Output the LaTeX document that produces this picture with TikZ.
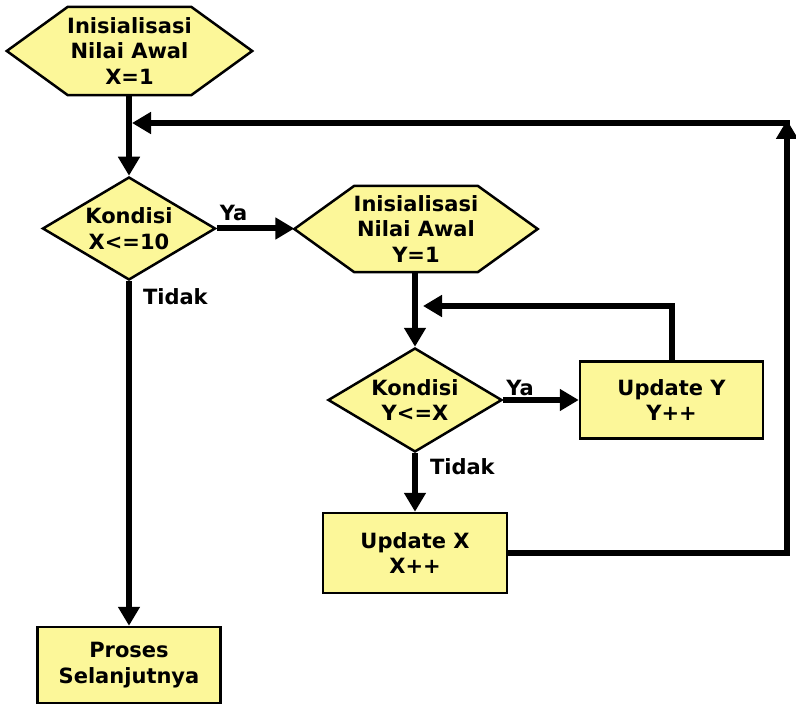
\documentclass[tikz,border=0pt]{standalone}
\usepackage{fontspec}
\setmainfont{DejaVu Sans}
\usetikzlibrary{arrows.meta,shapes.geometric,backgrounds,calc}
\definecolor{boxfill}{RGB}{252,247,153}
\begin{document}
\begin{tikzpicture}[x=1pt,y=-1pt,
  txt/.style={font=\fontsize{21}{25.5}\selectfont\bfseries, align=center},
  box/.style={txt, draw=black, line width=2.5pt, fill=boxfill, inner sep=0pt},
  hexnode/.style={txt, inner sep=0pt},
  dia/.style={shape=diamond, draw=black, line width=2.5pt, fill=boxfill, inner sep=0pt},
  flow/.style={line width=6pt, -{Triangle[width=21pt,length=19pt]}},
  lbl/.style={font=\fontsize{21}{24}\selectfont\bfseries, inner sep=0pt},
  hexline/.style={draw=black, line width=2.5pt, fill=boxfill, line join=miter}
]
\useasboundingbox (0,0) rectangle (796,706);

% nodes
\node[hexnode, minimum width=245pt, minimum height=88pt] (H1) at (129.5,51) {Inisialisasi\\Nilai Awal\\X=1};
\node[dia, minimum width=173pt, minimum height=103pt,
      label={[txt]center:{Kondisi\\X<=10}}] (D1) at (129,228.5) {};
\node[hexnode, minimum width=243pt, minimum height=86pt] (H2) at (416,229) {Inisialisasi\\Nilai Awal\\Y=1};
\node[dia, minimum width=174pt, minimum height=104pt,
      label={[txt]center:{Kondisi\\Y<=X}}] (D2) at (415,400) {};
\node[box, minimum width=183pt, minimum height=77pt] (UY) at (671.5,400) {Update Y\\Y++};
\node[box, minimum width=184pt, minimum height=80pt] (UX) at (415,553) {Update X\\X++};
\node[box, minimum width=183pt, minimum height=76pt] (P) at (129,665) {Proses\\Selanjutnya};

\begin{scope}[on background layer]
\path[hexline] (H1.west) -- ([xshift=61pt]H1.north west) -- ([xshift=-61pt]H1.north east)
  -- (H1.east) -- ([xshift=-61pt]H1.south east) -- ([xshift=61pt]H1.south west) -- cycle;
\path[hexline] (H2.west) -- ([xshift=60pt]H2.north west) -- ([xshift=-60pt]H2.north east)
  -- (H2.east) -- ([xshift=-60pt]H2.south east) -- ([xshift=60pt]H2.south west) -- cycle;
\end{scope}

\coordinate (J1) at (129,123);
\coordinate (J2) at (415,306);
\coordinate (C1) at (787,123);

% connectors
\draw[flow] (H1.south -| D1.north) -- (D1.north);
\draw[flow] (D1.east) -- node[lbl, pos=0, anchor=base west, yshift=8pt]{Ya} (D1.east -| H2.west);
\draw[flow] (D1.south) -- node[lbl, pos=0, anchor=base west, xshift=11pt, yshift=-23pt]{Tidak} (P.north);
\draw[flow] (H2.south -| D2.north) -- (D2.north);
\draw[flow] (D2.east) -- node[lbl, pos=0, anchor=base west, yshift=5pt]{Ya} (UY.west);
\draw[flow] (D2.south) -- node[lbl, pos=0, anchor=base west, xshift=12pt, yshift=-21pt]{Tidak} (UX.north);
\draw[flow, shorten >=8pt] (UY.north) |- (J2);
\draw[flow, shorten >=-3pt] (UX.east) -| (C1);
\draw[flow, shorten >=3pt] ([xshift=3pt]C1) -- (J1);
\end{tikzpicture}
\end{document}
